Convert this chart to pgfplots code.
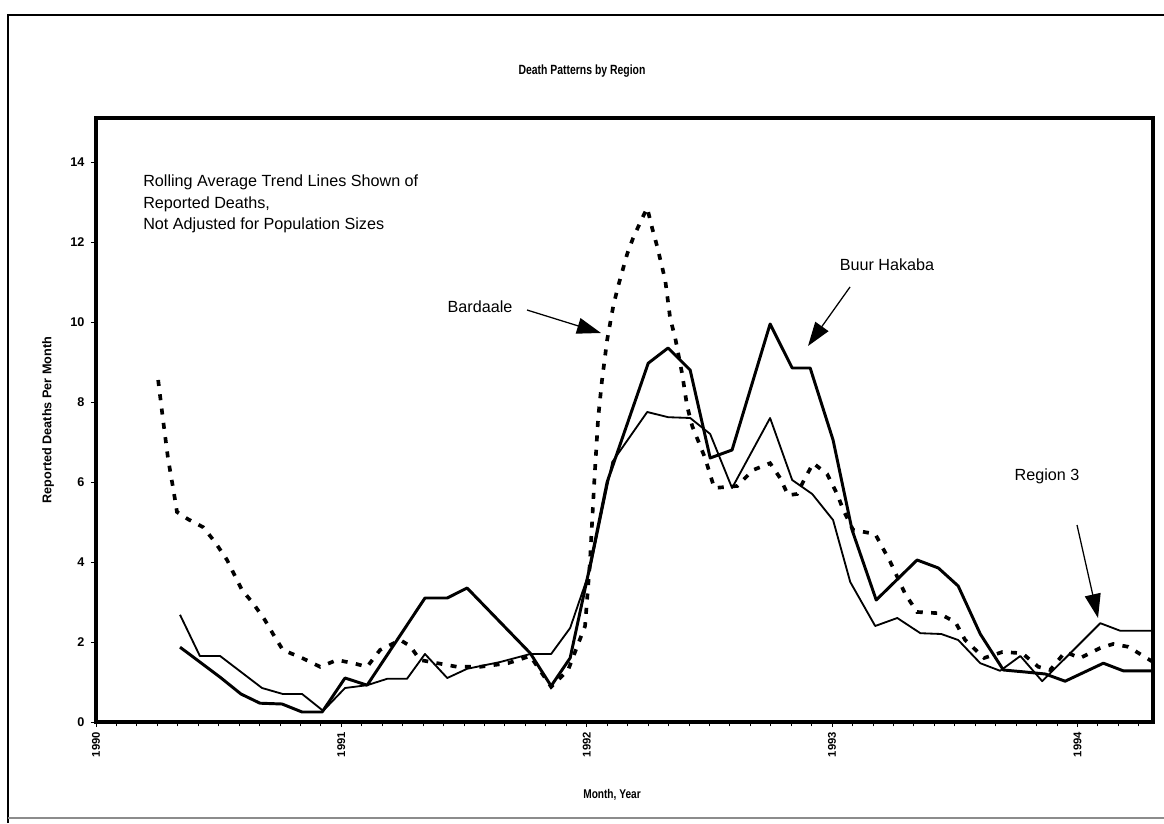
\documentclass[border=0pt]{standalone}
\usepackage{fontspec}
\setmainfont{Liberation Sans}
\usepackage{pgfplots}
\pgfplotsset{compat=1.18}
\usetikzlibrary{arrows.meta}

\begin{document}
\begin{tikzpicture}[x=0.25mm,y=0.25mm]
\useasboundingbox (0,0) rectangle (1164,823);
% outer frame of the scanned page
\draw[line width=1.6pt] (8,0) -- (8,808) -- (1164,808);
\draw[line width=0.9pt, black!45] (8,5) -- (1164,5);

\begin{axis}[
  at={(24mm,25.25mm)}, anchor=south west,
  scale only axis, width=264.25mm, height=151mm,
  xmin=0, xmax=51.7, ymin=0, ymax=15.1,
  axis line style={line width=2.2pt},
  no markers,
  xtick pos=lower, ytick pos=left,
  xtick={0,12,24,36,48},
  xticklabels={1990,1991,1992,1993,1994},
  minor xtick={0,1,...,51},
  ytick={0,2,4,6,8,10,12,14},
  tick align=outside,
  major tick length=1.3mm, minor tick length=1.1mm,
  tick style={line width=0.6pt, black},
  /pgf/number format/assume math mode=true,
  yticklabel style={font=\bfseries\fontsize{9}{10}\selectfont, xshift=-1pt},
  xticklabel style={font=\bfseries\fontsize{8}{9}\selectfont, rotate=90, anchor=east},
]
% Buur Hakaba (thick)
\addplot[line width=2.1pt, line join=round] coordinates {
  (4.11,1.87) (5.08,1.5) (6.07,1.12) (7.09,0.7) (8.02,0.47) (9.10,0.45)
  (10.08,0.25) (11.06,0.25) (12.18,1.1) (13.26,0.92) (16.09,3.1) (17.18,3.1)
  (18.15,3.35) (21.24,1.72) (22.26,0.9) (23.19,1.6) (24.16,3.9) (25.00,6.0)
  (27.01,8.97) (27.98,9.35) (29.06,8.8) (30.04,6.6) (31.11,6.8) (32.97,9.95)
  (34.05,8.85) (34.93,8.85) (36.05,7.05) (36.98,4.8) (38.16,3.05) (40.16,4.05)
  (41.20,3.85) (42.17,3.4) (43.25,2.2) (44.38,1.3) (45.45,1.25) (46.43,1.2)
  (47.40,1.02) (49.27,1.47) (50.24,1.28) (51.70,1.28)
};
% Region 3 (thin)
\addplot[line width=1.3pt, line join=round] coordinates {
  (4.11,2.68) (5.08,1.65) (6.07,1.65) (8.12,0.85) (9.14,0.7) (10.08,0.7)
  (11.11,0.28) (12.18,0.85) (13.26,0.92) (14.24,1.08) (15.21,1.08) (16.09,1.7)
  (17.18,1.1) (18.15,1.33) (19.77,1.5) (21.24,1.7) (22.26,1.7) (23.19,2.35)
  (24.16,3.8) (25.25,6.5) (26.96,7.75) (27.98,7.62) (29.06,7.6) (30.04,7.2)
  (31.11,5.85) (32.97,7.6) (34.05,6.05) (35.03,5.7) (36.05,5.05) (36.89,3.5)
  (38.11,2.4) (39.19,2.6) (40.32,2.22) (41.34,2.2) (42.17,2.05) (43.25,1.47)
  (44.22,1.28) (45.21,1.65) (46.28,1.02) (49.12,2.47) (50.10,2.28) (51.70,2.28)
};
% Bardaale (dotted)
\addplot[line width=2.6pt, dash pattern=on 1.5mm off 2.1mm] coordinates {
  (3.04,8.55) (3.28,7.55) (3.52,6.6) (3.82,5.7) (3.96,5.25) (4.50,5.07)
  (5.24,4.87) (5.82,4.5) (6.41,4.05) (7.14,3.3) (7.68,2.97) (8.26,2.55)
  (8.66,2.2) (9.14,1.8) (10.08,1.6) (10.96,1.38) (11.79,1.55) (12.58,1.47)
  (13.26,1.38) (13.89,1.8) (14.88,2.05) (15.36,1.9) (15.85,1.55) (17.66,1.38)
  (18.79,1.38) (20.15,1.47) (21.24,1.65) (22.26,0.88) (23.09,1.3) (23.92,2.4)
  (24.16,4.0) (24.37,6.0) (24.56,7.6) (24.75,8.55) (25.00,9.55) (25.30,10.4)
  (25.54,10.9) (25.98,11.7) (26.27,12.1) (26.72,12.6) (26.96,12.85) (27.20,12.35)
  (27.44,11.9) (27.84,11.05) (28.08,10.1) (28.33,9.6) (28.67,8.7) (28.91,7.9)
  (29.16,7.4) (29.79,6.6) (30.24,5.85) (31.36,5.9) (32.14,6.3) (32.97,6.47)
  (33.46,6.1) (33.85,5.67) (34.29,5.7) (34.68,6.1) (35.08,6.47) (35.76,6.2)
  (36.25,5.7) (36.55,5.3) (37.03,4.8) (38.11,4.7) (38.85,4.0) (39.58,3.2)
  (40.16,2.75) (41.20,2.72) (42.03,2.5) (42.51,2.05) (43.44,1.6) (44.33,1.75)
  (45.30,1.72) (46.09,1.38) (46.67,1.3) (47.40,1.75) (48.14,1.6) (49.12,1.85)
  (49.75,1.95) (50.49,1.88) (51.70,1.5)
};
\end{axis}

% titles and axis labels
\node[font=\bfseries\fontsize{9.5}{11}\selectfont, xscale=0.78] at (582,752) {Death Patterns by Region};
\node[font=\bfseries\fontsize{9}{11}\selectfont, rotate=90] at (48,403) {Reported Deaths Per Month};
\node[font=\bfseries\fontsize{9}{11}\selectfont, xscale=0.8] at (612,28) {Month, Year};

% annotations
\node[anchor=north west, align=left, inner sep=0pt,
      font=\fontsize{11.5}{15}\selectfont] at (143,648)
  {Rolling Average Trend Lines Shown of\\Reported Deaths,\\Not Adjusted for Population Sizes};
\node[font=\fontsize{11.5}{12}\selectfont] at (480,516) {Bardaale};
\draw[line width=0.9pt, -{Triangle[length=6mm,width=4mm]}] (527,513) -- (601,490);
\node[font=\fontsize{11.5}{12}\selectfont] at (887,558) {Buur Hakaba};
\draw[line width=0.9pt, -{Triangle[length=6mm,width=4mm]}] (850,536) -- (808,477);
\node[font=\fontsize{11.5}{12}\selectfont] at (1047,347) {Region 3};
\draw[line width=0.9pt, -{Triangle[length=6mm,width=4mm]}] (1077,298) -- (1098,205);
\end{tikzpicture}
\end{document}
